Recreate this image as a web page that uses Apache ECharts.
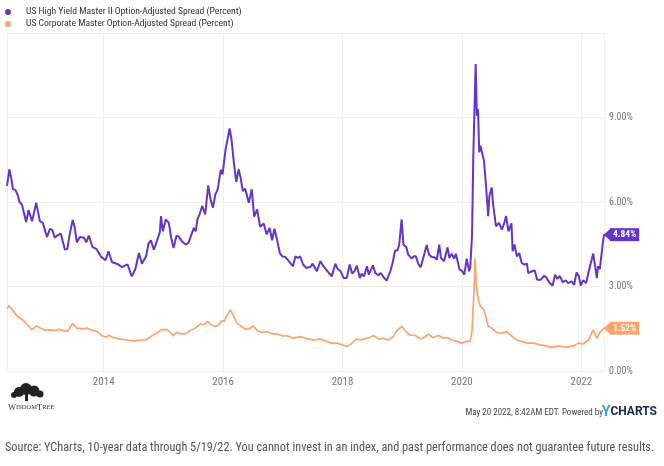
<!DOCTYPE html>
<html>
<head>
    <meta charset="utf-8">
    <title>High Yield vs Corporate OAS</title>
    <script src="https://cdn.jsdelivr.net/npm/echarts@6/dist/echarts.min.js"></script>
    <style>
        html, body { margin: 0; padding: 0; background: #fff; }
        #main { width: 664px; height: 466px; }
    </style>
</head>
<body>
<div id="main"></div>
<script>
    // dates as decimal years, values in percent
    var hyT = [2012.38, 2012.42, 2012.45, 2012.48, 2012.52, 2012.56, 2012.59, 2012.63, 2012.66, 2012.70,
        2012.74, 2012.80, 2012.87, 2012.93, 2012.98, 2013.05, 2013.10, 2013.14, 2013.18, 2013.22,
        2013.28, 2013.35, 2013.39, 2013.43, 2013.48, 2013.51, 2013.55, 2013.60, 2013.67, 2013.71,
        2013.75, 2013.81, 2013.88, 2013.95, 2014.03, 2014.08, 2014.14, 2014.22, 2014.31, 2014.35,
        2014.40, 2014.47, 2014.53, 2014.59, 2014.64, 2014.71, 2014.75, 2014.79, 2014.84, 2014.89,
        2014.94, 2014.96, 2014.99, 2015.04, 2015.09, 2015.13, 2015.17, 2015.22, 2015.26, 2015.31,
        2015.37, 2015.42, 2015.46, 2015.51, 2015.54, 2015.57, 2015.61, 2015.65, 2015.70, 2015.75,
        2015.79, 2015.83, 2015.87, 2015.91, 2015.96, 2015.99, 2016.04, 2016.07, 2016.11, 2016.14,
        2016.18, 2016.22, 2016.26, 2016.29, 2016.33, 2016.37, 2016.43, 2016.48, 2016.52, 2016.57,
        2016.62, 2016.68, 2016.73, 2016.78, 2016.82, 2016.86, 2016.90, 2016.95, 2016.99, 2017.04,
        2017.10, 2017.17, 2017.21, 2017.25, 2017.29, 2017.34, 2017.39, 2017.46, 2017.50, 2017.57,
        2017.63, 2017.68, 2017.75, 2017.82, 2017.88, 2017.92, 2017.97, 2018.02, 2018.07, 2018.12,
        2018.16, 2018.20, 2018.24, 2018.29, 2018.32, 2018.36, 2018.41, 2018.44, 2018.46, 2018.51,
        2018.55, 2018.60, 2018.64, 2018.70, 2018.74, 2018.80, 2018.84, 2018.88, 2018.92, 2018.95,
        2018.99, 2019.02, 2019.07, 2019.10, 2019.16, 2019.19, 2019.23, 2019.27, 2019.31, 2019.36,
        2019.41, 2019.45, 2019.50, 2019.54, 2019.58, 2019.62, 2019.65, 2019.70, 2019.76, 2019.79,
        2019.83, 2019.87, 2019.90, 2019.96, 2020.00, 2020.04, 2020.08, 2020.12, 2020.14, 2020.17,
        2020.19, 2020.23, 2020.25, 2020.27, 2020.29, 2020.31, 2020.33, 2020.37, 2020.40, 2020.44,
        2020.46, 2020.50, 2020.52, 2020.57, 2020.62, 2020.67, 2020.71, 2020.74, 2020.78, 2020.83,
        2020.85, 2020.88, 2020.92, 2020.96, 2021.00, 2021.04, 2021.09, 2021.11, 2021.17, 2021.22,
        2021.26, 2021.32, 2021.38, 2021.42, 2021.46, 2021.52, 2021.56, 2021.60, 2021.64, 2021.69,
        2021.74, 2021.78, 2021.84, 2021.88, 2021.92, 2021.96, 2021.99, 2022.03, 2022.08, 2022.12,
        2022.16, 2022.20, 2022.23, 2022.26, 2022.28, 2022.31, 2022.36, 2022.38];
    var hyV = [6.57, 7.16, 6.86, 6.45, 6.43, 6.24, 6.00, 5.91, 5.95, 5.29,
        5.71, 5.32, 5.97, 5.32, 5.26, 4.76, 5.05, 5.00, 4.73, 4.81,
        4.88, 4.31, 4.33, 4.85, 5.36, 5.14, 4.57, 4.76, 4.73, 4.57,
        4.81, 4.41, 4.33, 4.07, 3.93, 4.25, 3.86, 3.81, 3.69, 3.74,
        3.78, 3.36, 3.62, 4.19, 3.81, 4.07, 4.52, 4.64, 4.31, 4.61,
        4.93, 5.50, 4.96, 5.38, 5.26, 4.73, 4.37, 4.81, 4.76, 4.61,
        4.49, 4.55, 4.79, 5.08, 4.96, 5.38, 5.59, 5.86, 5.56, 6.59,
        6.09, 5.80, 6.27, 6.45, 7.14, 6.98, 7.85, 7.90, 8.61, 8.23,
        7.40, 6.71, 7.16, 6.90, 6.39, 6.47, 5.97, 6.45, 5.48, 5.74,
        5.12, 5.24, 4.85, 5.08, 4.64, 5.05, 4.69, 4.19, 4.07, 4.05,
        3.90, 3.72, 4.07, 4.01, 4.07, 3.78, 3.66, 3.69, 3.81, 3.54,
        3.90, 3.72, 3.54, 3.36, 3.81, 3.62, 3.54, 3.30, 3.30, 3.78,
        3.46, 3.54, 3.74, 3.30, 3.46, 3.36, 3.72, 3.42, 3.36, 3.75,
        3.48, 3.40, 3.48, 3.30, 3.21, 3.54, 3.84, 4.28, 4.28, 4.49,
        5.38, 4.49, 4.39, 4.13, 3.99, 4.07, 4.07, 3.80, 3.68, 4.07,
        4.47, 4.13, 4.04, 4.04, 3.95, 4.49, 4.01, 3.90, 4.39, 4.01,
        4.16, 3.99, 4.16, 3.60, 3.56, 3.42, 3.99, 3.54, 3.68, 4.85,
        7.58, 10.90, 9.06, 9.30, 7.76, 8.00, 8.05, 7.46, 6.69, 5.50,
        6.21, 6.51, 5.97, 5.14, 5.26, 5.02, 5.26, 5.50, 4.96, 5.24,
        4.25, 4.49, 4.07, 4.19, 3.84, 3.78, 3.81, 3.48, 3.54, 3.57,
        3.24, 3.24, 3.38, 3.30, 3.15, 3.03, 3.42, 3.27, 3.38, 3.15,
        3.22, 3.12, 3.18, 3.06, 3.50, 3.36, 3.03, 3.22, 3.12, 3.50,
        3.84, 4.17, 3.72, 3.30, 3.72, 3.62, 4.55, 4.84];

    var igT = [2012.38, 2012.41, 2012.47, 2012.52, 2012.59, 2012.66, 2012.72, 2012.80, 2012.87, 2012.95,
        2013.02, 2013.11, 2013.19, 2013.25, 2013.32, 2013.39, 2013.43, 2013.48, 2013.55, 2013.64,
        2013.73, 2013.81, 2013.89, 2013.97, 2014.05, 2014.08, 2014.14, 2014.22, 2014.31, 2014.39,
        2014.50, 2014.61, 2014.70, 2014.81, 2014.89, 2014.96, 2015.05, 2015.10, 2015.16, 2015.22,
        2015.28, 2015.37, 2015.45, 2015.53, 2015.62, 2015.67, 2015.74, 2015.80, 2015.87, 2015.93,
        2015.98, 2016.02, 2016.06, 2016.12, 2016.18, 2016.23, 2016.30, 2016.37, 2016.46, 2016.50,
        2016.57, 2016.65, 2016.73, 2016.82, 2016.90, 2016.99, 2017.07, 2017.18, 2017.29, 2017.40,
        2017.52, 2017.62, 2017.68, 2017.81, 2017.91, 2017.99, 2018.08, 2018.16, 2018.23, 2018.30,
        2018.38, 2018.46, 2018.52, 2018.60, 2018.69, 2018.77, 2018.85, 2018.91, 2018.99, 2019.05,
        2019.12, 2019.22, 2019.30, 2019.37, 2019.44, 2019.51, 2019.61, 2019.69, 2019.76, 2019.83,
        2019.91, 2020.00, 2020.08, 2020.14, 2020.17, 2020.20, 2020.22, 2020.24, 2020.28, 2020.31,
        2020.36, 2020.40, 2020.44, 2020.50, 2020.58, 2020.67, 2020.75, 2020.83, 2020.92, 2021.00,
        2021.09, 2021.20, 2021.31, 2021.42, 2021.50, 2021.62, 2021.75, 2021.87, 2021.95, 2022.03,
        2022.12, 2022.20, 2022.26, 2022.32, 2022.38];
    var igV = [2.21, 2.32, 2.17, 2.03, 1.88, 1.79, 1.64, 1.46, 1.60, 1.52,
        1.44, 1.46, 1.44, 1.48, 1.44, 1.40, 1.52, 1.70, 1.52, 1.50,
        1.52, 1.44, 1.40, 1.25, 1.20, 1.28, 1.20, 1.16, 1.12, 1.10,
        1.06, 1.10, 1.10, 1.25, 1.34, 1.46, 1.48, 1.40, 1.25, 1.37,
        1.32, 1.32, 1.44, 1.52, 1.67, 1.64, 1.76, 1.64, 1.58, 1.64,
        1.79, 1.76, 1.96, 2.17, 1.94, 1.70, 1.60, 1.48, 1.52, 1.60,
        1.44, 1.37, 1.40, 1.32, 1.32, 1.25, 1.25, 1.16, 1.22, 1.15,
        1.10, 1.13, 1.10, 0.99, 0.99, 0.93, 0.87, 0.99, 1.13, 1.10,
        1.15, 1.19, 1.26, 1.14, 1.16, 1.10, 1.22, 1.43, 1.58, 1.43,
        1.28, 1.26, 1.14, 1.19, 1.31, 1.19, 1.26, 1.16, 1.19, 1.10,
        1.05, 0.99, 1.05, 1.05, 1.46, 2.71, 3.99, 3.06, 2.47, 2.30,
        2.20, 1.94, 1.60, 1.52, 1.37, 1.34, 1.40, 1.25, 1.10, 1.05,
        0.99, 0.99, 0.93, 0.89, 0.84, 0.89, 0.84, 0.89, 0.99, 0.96,
        1.10, 1.46, 1.16, 1.40, 1.52];

    var xLabelYears = [2014, 2016, 2018, 2020, 2022];
    var yTicks = [0, 3, 6, 9];

    var hyName = 'US High Yield Master II Option-Adjusted Spread (Percent)';
    var igName = 'US Corporate Master Option-Adjusted Spread (Percent)';
    var hyColor = '#6335c8';
    var igColor = '#ffa46c';
    var narrow = '"Liberation Sans Narrow", "Roboto Condensed", Roboto, sans-serif';

    function pairs(t, v) {
        var out = [];
        for (var i = 0; i < t.length; i++) out.push([t[i], v[i]]);
        return out;
    }
    function pct(p) {
        return p.value[1].toFixed(2) + '%';
    }
    function arrow(t, v, color) {
        return {
            symbol: 'triangle',
            symbolSize: [12, 7],
            symbolRotate: 90,
            symbolOffset: [3, 0],
            silent: true,
            label: { show: false },
            itemStyle: { color: color },
            data: [{ coord: [t[t.length - 1], v[v.length - 1]] }]
        };
    }

    var myChart = echarts.init(document.getElementById('main'));
    var option = {
        animation: false,
        backgroundColor: '#fff',
        textStyle: { fontFamily: narrow },
        legend: {
            orient: 'vertical',
            left: 0,
            top: 2,
            itemGap: 2,
            itemWidth: 18,
            itemHeight: 6,
            icon: 'circle',
            textStyle: { fontSize: 9.6, color: '#333', padding: [0, 0, 0, 4], fontFamily: narrow },
            data: [hyName, igName]
        },
        grid: { left: 7, right: 60, top: 33, bottom: 95 },
        xAxis: {
            type: 'value',
            min: hyT[0],
            max: hyT[hyT.length - 1],
            splitNumber: 5,
            axisLine: { show: false },
            axisTick: { show: false },
            axisLabel: {
                color: '#777',
                fontSize: 11,
                margin: 6,
                showMinLabel: false,
                showMaxLabel: false,
                formatter: function (v) {
                    return xLabelYears.indexOf(Math.round(v * 1000) / 1000) >= 0 ? String(v) : '';
                }
            },
            splitLine: { show: true, lineStyle: { color: '#efefef', width: 1 } }
        },
        yAxis: {
            type: 'value',
            position: 'right',
            min: 0,
            max: 12,
            interval: 3,
            axisLine: { show: false },
            axisTick: { show: false },
            axisLabel: {
                color: '#777',
                fontSize: 10,
                margin: 5,
                formatter: function (v) {
                    return yTicks.indexOf(v) >= 0 ? v.toFixed(2) + '%' : '';
                }
            },
            splitLine: { lineStyle: { color: '#efefef', width: 1 } }
        },
        series: [
            {
                name: igName,
                type: 'line',
                data: pairs(igT, igV),
                showSymbol: false,
                color: igColor,
                lineStyle: { color: igColor, width: 1.7 },
                endLabel: {
                    show: true, formatter: pct, distance: 6,
                    backgroundColor: igColor, color: '#fff',
                    fontWeight: 'bold', fontSize: 9.5, padding: [2, 3, 1, 3]
                },
                markPoint: arrow(igT, igV, igColor),
                z: 2
            },
            {
                name: hyName,
                type: 'line',
                data: pairs(hyT, hyV),
                showSymbol: false,
                color: hyColor,
                lineStyle: { color: hyColor, width: 2 },
                endLabel: {
                    show: true, formatter: pct, distance: 6,
                    backgroundColor: hyColor, color: '#fff',
                    fontWeight: 'bold', fontSize: 9.5, padding: [2, 3, 1, 3]
                },
                markPoint: arrow(hyT, hyV, hyColor),
                z: 3
            }
        ],
        graphic: [
            // WisdomTree logo: small tree canopy and the word mark
            { type: 'circle', shape: { cx: 19, cy: 392, r: 5 }, style: { fill: '#222' } },
            { type: 'circle', shape: { cx: 26, cy: 389, r: 6 }, style: { fill: '#222' } },
            { type: 'circle', shape: { cx: 34, cy: 391, r: 5.5 }, style: { fill: '#222' } },
            { type: 'circle', shape: { cx: 40, cy: 394, r: 3.5 }, style: { fill: '#222' } },
            { type: 'circle', shape: { cx: 14, cy: 395, r: 3 }, style: { fill: '#222' } },
            { type: 'rect', shape: { x: 25, y: 393, width: 3, height: 8 }, style: { fill: '#222' } },
            {
                type: 'text', left: 8, top: 403,
                style: {
                    text: '{a|W}{b|ISDOM}{a|T}{b|REE}',
                    rich: {
                        a: { fontFamily: '"Liberation Serif", serif', fontSize: 8.5, fill: '#333' },
                        b: { fontFamily: '"Liberation Serif", serif', fontSize: 6.5, fill: '#333' }
                    }
                }
            },
            {
                type: 'text', right: 61, top: 408,
                style: {
                    text: 'May 20 2022, 8:42AM EDT. Powered by',
                    fontFamily: narrow, fontSize: 9, fill: '#444'
                }
            },
            {
                type: 'text', right: 7, top: 405,
                style: {
                    text: '{y|Y}{c|CHARTS}',
                    rich: {
                        y: { fontFamily: 'Roboto, sans-serif', fontWeight: 'bold', fontSize: 14, fill: '#27a9f0' },
                        c: { fontFamily: 'Roboto, sans-serif', fontWeight: 'bold', fontSize: 12, fill: '#1b2a4a' }
                    }
                }
            },
            {
                type: 'text', left: 5, top: 442,
                style: {
                    text: 'Source: YCharts, 10-year data through 5/19/22. You cannot invest in an index, and past performance does not guarantee future results.',
                    fontFamily: narrow, fontSize: 12.25, fill: '#555'
                }
            }
        ]
    };
    myChart.setOption(option);
</script>
</body>
</html>
